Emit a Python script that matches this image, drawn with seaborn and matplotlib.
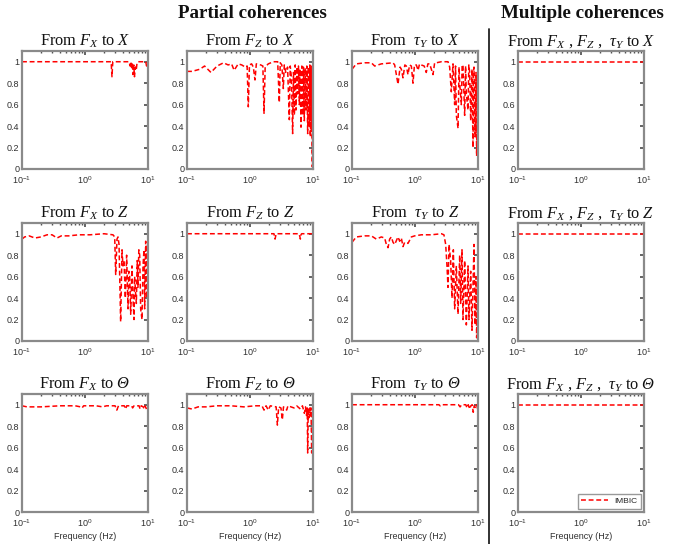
import numpy as np
import pandas as pd
import matplotlib
matplotlib.use("Agg")
import matplotlib.pyplot as plt
import seaborn as sns

# --- DATA ---
# Frequency (Hz) / coherence pairs per panel
fx_x_freq = [0.10, 2.60, 2.68, 2.76, 2.85, 5.00, 5.20, 5.35, 5.50, 5.65, 5.80,
             5.95, 6.10, 6.30, 6.50, 6.70, 7.00, 9.20, 9.50, 9.80, 10.0]
fx_x_coh = [1.00, 1.00, 0.86, 1.00, 1.00, 1.00, 0.96, 1.00, 0.93, 0.99, 0.88,
            0.97, 0.86, 0.95, 0.92, 0.99, 1.00, 1.00, 0.96, 1.00, 1.00]

fz_x_freq = [0.10, 0.12, 0.16, 0.19, 0.24, 0.30, 0.38, 0.45, 0.51, 0.56, 0.65,
             0.74, 0.84, 0.90, 0.94, 0.98, 1.06, 1.13, 1.20, 1.26, 1.48, 1.60,
             1.67, 1.74, 1.95, 2.35, 2.75, 2.92, 3.02, 3.20, 3.38, 3.50, 3.70,
             3.95, 4.21, 4.35, 4.55, 4.75, 4.90, 5.06, 5.22, 5.37, 5.55, 5.71,
             5.88, 6.07, 6.25, 6.45, 6.65, 6.86, 7.05, 7.28, 7.50, 7.74, 7.98,
             8.23, 8.48, 8.75, 8.90, 9.07, 9.25, 9.42, 9.60, 9.76, 9.90, 10.0]
fz_x_coh = [0.91, 0.91, 0.93, 0.96, 0.90, 0.96, 0.99, 0.97, 0.98, 0.92, 0.98,
            0.97, 0.95, 0.96, 0.58, 0.97, 0.98, 0.95, 0.83, 0.98, 0.97, 0.96,
            0.52, 0.95, 0.98, 1.00, 1.00, 0.62, 0.99, 0.97, 0.75, 0.97, 0.90,
            0.95, 0.46, 0.96, 0.85, 0.33, 0.90, 0.50, 0.97, 0.55, 0.95, 0.70,
            0.96, 0.60, 0.93, 0.39, 0.96, 0.50, 0.95, 0.45, 0.94, 0.55, 0.96,
            0.33, 0.95, 0.40, 0.97, 0.30, 0.95, 0.35, 0.96, 0.02, 0.90, 0.95]

ty_x_freq = [0.10, 0.117, 0.159, 0.203, 0.229, 0.292, 0.448, 0.476, 0.537, 0.58,
             0.607, 0.645, 0.69, 0.728, 0.774, 0.82, 0.875, 0.929, 0.98, 1.05,
             1.12, 1.18, 1.26, 1.40, 1.51, 1.60, 1.71, 1.93, 2.05, 2.18, 2.62,
             3.34, 3.55, 3.77, 4.01, 4.26, 4.40, 4.53, 4.82, 5.00, 5.12, 5.44,
             5.60, 5.78, 6.14, 6.35, 6.53, 6.94, 7.15, 7.38, 7.65, 8.03, 8.33,
             8.50, 8.64, 8.96, 9.30, 9.52, 9.75, 10.0]
ty_x_coh = [0.93, 0.98, 0.99, 0.99, 0.96, 0.98, 0.99, 0.97, 0.79, 0.95,
            0.93, 0.85, 0.97, 0.96, 0.88, 0.97, 0.96, 0.80, 0.97, 0.97,
            0.92, 0.98, 0.97, 0.96, 0.90, 0.98, 0.98, 0.88, 0.99, 0.99, 1.00,
            1.00, 0.95, 0.72, 0.98, 0.60, 0.96, 0.50, 0.38, 0.95, 0.80, 0.60,
            0.97, 0.97, 0.50, 0.96, 0.70, 0.55, 0.97, 0.90, 0.45, 0.93, 0.20,
            0.90, 0.95, 0.30, 0.90, 0.12, 0.85, 0.50]

fx_z_freq = [0.10, 0.11, 0.13, 0.16, 0.20, 0.25, 0.30, 0.36, 0.42, 0.55, 0.80,
             1.20, 2.00, 2.78, 2.96, 3.07, 3.22, 3.34, 3.47, 3.68, 3.87, 4.00,
             4.16, 4.37, 4.58, 4.82, 4.95, 5.12, 5.31, 5.57, 5.78, 6.00, 6.14,
             6.35, 6.53, 6.75, 6.94, 7.15, 7.38, 7.65, 8.03, 8.33, 8.64, 8.85,
             9.19, 9.52, 9.75, 10.0]
fx_z_coh = [0.95, 0.97, 0.98, 0.96, 0.97, 0.99, 0.99, 0.96, 0.98, 0.98, 0.99,
            0.99, 1.00, 0.99, 0.97, 0.62, 0.95, 0.97, 0.90, 0.18, 0.85, 0.70,
            0.75, 0.40, 0.80, 0.30, 0.65, 0.60, 0.25, 0.70, 0.40, 0.20, 0.60,
            0.45, 0.35, 0.75, 0.50, 0.85, 0.80, 0.30, 0.20, 0.70, 0.85, 0.30,
            0.93, 0.40, 0.90, 0.60]

fz_z_freq = [0.10, 2.40, 2.50, 2.60, 6.00, 6.20, 6.30, 6.45, 6.60, 9.50, 9.70, 10.0]
fz_z_coh = [1.00, 1.00, 0.95, 1.00, 1.00, 0.97, 0.95, 0.99, 1.00, 1.00, 0.99, 1.00]

ty_z_freq = [0.10, 0.117, 0.159, 0.203, 0.243, 0.292, 0.330, 0.351, 0.373, 0.396,
             0.421, 0.448, 0.476, 0.537, 0.571, 0.607, 0.645, 0.685, 0.774, 0.823,
             0.875, 0.988, 1.26, 1.82, 2.62, 2.88, 3.07, 3.22, 3.34, 3.47, 3.68,
             3.87, 4.06, 4.26, 4.53, 4.82, 5.12, 5.31, 5.57, 5.78, 6.14, 6.53,
             6.94, 7.19, 7.65, 8.03, 8.64, 8.96, 9.30, 9.52, 9.75, 10.0]
ty_z_coh = [0.92, 0.97, 0.98, 0.98, 0.95, 0.97, 0.96, 0.90, 0.87, 0.95,
            0.97, 0.92, 0.90, 0.97, 0.93, 0.96, 0.88, 0.92, 0.91, 0.94,
            0.97, 0.98, 0.99, 0.99, 1.00, 0.99, 0.90, 0.70, 0.50, 0.90, 0.75,
            0.40, 0.85, 0.30, 0.70, 0.25, 0.80, 0.35, 0.85, 0.20, 0.75, 0.15,
            0.70, 0.20, 0.65, 0.10, 0.90, 0.15, 0.60, 0.03, 0.50, 0.10]

fx_t_freq = [0.10, 0.12, 0.20, 0.40, 0.70, 0.85, 0.90, 0.95, 1.50, 1.90, 2.20,
             3.00, 3.20, 3.40, 4.20, 4.40, 4.60, 5.50, 5.70, 6.00, 7.20, 7.50,
             7.80, 8.40, 8.70, 9.00, 9.60, 10.0]
fx_t_coh = [0.99, 0.98, 0.98, 0.99, 0.99, 0.98, 0.97, 0.99, 0.99, 0.98, 0.99,
            0.99, 0.95, 0.99, 0.99, 0.96, 0.99, 0.99, 0.97, 0.99, 0.99, 0.96,
            0.99, 0.98, 0.96, 0.99, 0.95, 0.98]

fz_t_freq = [0.10, 0.12, 0.15, 0.20, 0.30, 0.50, 0.80, 1.20, 1.55, 1.67, 1.80,
             1.95, 2.10, 2.60, 2.72, 2.85, 3.10, 3.26, 3.40, 3.82, 4.00, 5.00,
             5.50, 6.30, 6.80, 7.30, 7.60, 7.90, 8.10, 8.23, 8.40, 8.70, 8.90,
             9.10, 9.30, 9.53, 9.70, 10.0]
fz_t_coh = [0.97, 0.96, 0.98, 0.98, 0.99, 0.99, 0.98, 0.99, 0.99, 0.95, 0.99,
            0.95, 0.99, 0.98, 0.81, 0.98, 0.97, 0.86, 0.98, 0.95, 0.99, 0.97,
            0.99, 0.96, 0.99, 0.92, 0.98, 0.90, 0.97, 0.55, 0.97, 0.88, 0.97,
            0.90, 0.97, 0.55, 0.95, 0.95]

ty_t_freq = [0.10, 2.40, 2.50, 2.60, 4.90, 5.20, 5.50, 6.40, 6.70, 7.00, 7.40,
             7.70, 8.10, 8.40, 8.70, 9.20, 9.50, 9.80, 10.0]
ty_t_coh = [1.00, 1.00, 0.99, 1.00, 1.00, 0.98, 1.00, 1.00, 0.97, 1.00, 0.96,
            0.99, 1.00, 0.93, 0.99, 0.97, 1.00, 0.97, 0.90]

mult_freq = [0.10, 10.0]
mult_coh = [1.00, 1.00]

# italic capital theta goes through the "cal" slot (mapped to an italic serif)
TH = r"$\mathcal{\Theta}$"
panel_titles = [
    [r"From $F_X$ to $X$", r"From $F_Z$ to $X$", r"From  $\tau_Y$ to $X$",
     r"From $F_X$ , $F_Z$ ,  $\tau_Y$ to $X$"],
    [r"From $F_X$ to $Z$", r"From $F_Z$ to $Z$", r"From  $\tau_Y$ to $Z$",
     r"From $F_X$ , $F_Z$ ,  $\tau_Y$ to $Z$"],
    [r"From $F_X$ to " + TH, r"From $F_Z$ to " + TH,
     r"From  $\tau_Y$ to " + TH,
     r"From $F_X$ , $F_Z$ ,  $\tau_Y$ to " + TH],
]
panel_data = [
    [(fx_x_freq, fx_x_coh), (fz_x_freq, fz_x_coh), (ty_x_freq, ty_x_coh), (mult_freq, mult_coh)],
    [(fx_z_freq, fx_z_coh), (fz_z_freq, fz_z_coh), (ty_z_freq, ty_z_coh), (mult_freq, mult_coh)],
    [(fx_t_freq, fx_t_coh), (fz_t_freq, fz_t_coh), (ty_t_freq, ty_t_coh), (mult_freq, mult_coh)],
]

# --- STYLE ---
sns.set_theme(style="white")
plt.rcParams["font.family"] = ["Liberation Sans", "DejaVu Sans"]
# Times-like italic math for the panel titles
plt.rcParams["mathtext.fontset"] = "custom"
plt.rcParams["mathtext.rm"] = "Liberation Serif"
plt.rcParams["mathtext.it"] = "Liberation Serif:italic"
plt.rcParams["mathtext.bf"] = "Liberation Serif:bold"
plt.rcParams["mathtext.cal"] = "Liberation Serif:italic"

W, H = 689, 544
fig = plt.figure(figsize=(W / 100, H / 100), dpi=100)

col_left = [22, 187, 352, 518]
row_top = [51, 223, 394]
ax_w, ax_h = 126, 118

for r in range(3):
    for c in range(4):
        ax = fig.add_axes([col_left[c] / W, 1 - (row_top[r] + ax_h) / H, ax_w / W, ax_h / H])
        freq, coh = panel_data[r][c]
        df = pd.DataFrame({"freq": freq, "coh": coh})
        lbl = "IMBIC" if (r == 2 and c == 3) else None
        sns.lineplot(data=df, x="freq", y="coh", ax=ax, color="red", lw=1.1,
                     linestyle=(0, (3.2, 1.8)), estimator=None, sort=False, label=lbl)
        ax.set_xscale("log")
        ax.set_xlim(0.1, 10)
        ax.set_ylim(0, 1.1)
        ax.set_yticks([0, 0.2, 0.4, 0.6, 0.8, 1])
        ax.set_yticklabels(["0", "0.2", "0.4", "0.6", "0.8", "1"])
        ax.set_xticks([0.1, 1, 10])
        ax.set_xticklabels([r"$\mathregular{10^{-1}}$", r"$\mathregular{10^{0}}$",
                            r"$\mathregular{10^{1}}$"], family="Liberation Sans")
        ax.tick_params(axis="both", which="both", direction="in", top=True, right=True,
                       labelsize=6.5, colors="#303030")
        ax.tick_params(axis="x", pad=4)
        ax.tick_params(axis="y", pad=2)
        ax.tick_params(which="major", length=3, color="#505050")
        ax.tick_params(which="minor", length=1.5, color="#505050")
        for s in ax.spines.values():
            s.set_color("#8a8a8a")
            s.set_linewidth(1.6)
        ax.set_title(panel_titles[r][c], family="Liberation Serif", fontsize=11.8,
                     color="#111111", pad=4)
        ax.set_ylabel("")
        if r == 2:
            ax.set_xlabel("Frequency (Hz)", fontsize=6.5, color="#303030", labelpad=2)
        else:
            ax.set_xlabel("")
        if lbl:
            leg = ax.legend(loc="lower right", fontsize=6, handlelength=3.2,
                            frameon=True, fancybox=False, borderpad=0.4,
                            borderaxespad=0.4)
            leg.get_frame().set_edgecolor("#808080")
            leg.get_frame().set_linewidth(1.0)
        elif ax.get_legend() is not None:
            ax.get_legend().remove()

fig.text(252 / W, 1 - 14 / H, "Partial coherences", family="Liberation Serif",
         fontweight="bold", fontsize=13.7, ha="center", va="center", color="#111111")
fig.text(582 / W, 1 - 14 / H, "Multiple coherences", family="Liberation Serif",
         fontweight="bold", fontsize=13.7, ha="center", va="center", color="#111111")

# divider between partial and multiple
fig.add_artist(plt.Line2D([489 / W, 489 / W], [0, 1 - 29 / H], color="#222222",
                          lw=1.3, transform=fig.transFigure))

fig.savefig("out.png", dpi=100)
